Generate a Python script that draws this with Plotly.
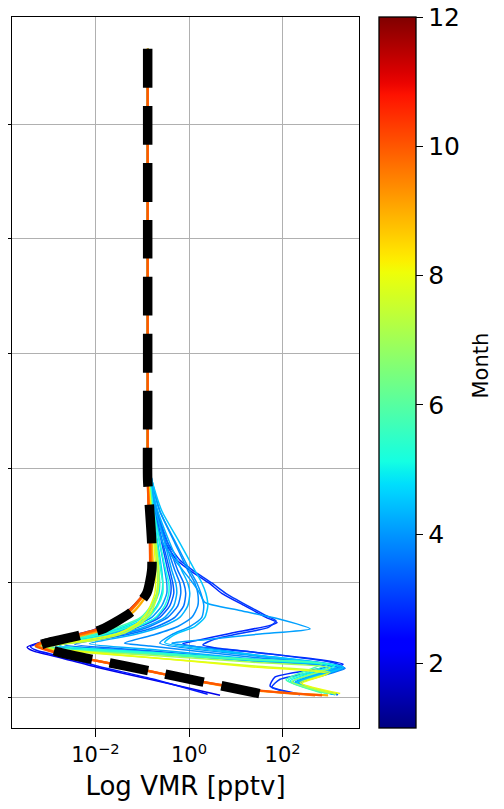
import plotly.graph_objects as go

# ---------------- data (altitude in km, VMR in pptv) ----------------
TOP_ALT = [56.6, 45.0, 35.0, 25.0, 21.0]
TOP_VMR = [0.131, 0.131, 0.131, 0.131, 0.131]

# black dashed mean profile
mean_alt = [56.6, 40, 25, 19, 16.3, 13.5, 11.1, 9.1, 7.5, 5.95, 5.42, 4.72, 4.55, 3.95, 3.2, 2.33, 1.42, 0.29]
mean_vmr = [0.131, 0.131, 0.131, 0.131, 0.145, 0.160, 0.160, 0.125, 0.060, 0.0136, 0.0046, 0.00082,
            0.00064, 0.00172, 0.0124, 0.145, 1.70, 38]

# individual profiles: month, altitude, vmr
e1_month = 2.0
e1_alt = [19, 13.5, 11.1, 9.1, 7.5, 5.95, 5.42, 4.75, 4.4, 4.1, 3.5, 2.65, 1.6, 0.2]
e1_vmr = [0.131, 0.145, 0.145, 0.108, 0.047, 0.0097, 0.0031, 0.00058, 0.00035, 0.00045, 0.00172, 0.0107, 0.145, 4.6]

e2_month = 2.6
e2_alt = [19, 13.5, 11.1, 9.1, 7.5, 5.95, 5.42, 4.75, 4.45, 4.15, 3.55, 2.7, 1.65, 0.3]
e2_vmr = [0.131, 0.152, 0.152, 0.113, 0.051, 0.0107, 0.0036, 0.00064, 0.00041, 0.00053, 0.0020, 0.0124, 0.160, 2.5]

d1_month = 2.8
d1_alt = [19, 16.3, 13.5, 12, 11.1, 10, 9.1, 8.0, 7.0, 6.55, 6.3, 5.6, 4.95, 4.7, 4.45, 4.0, 3.3, 2.9, 1.8, 1.0, 0.3]
d1_vmr = [0.145, 0.195, 0.319, 0.548, 1.04, 2.65, 5.0, 15.6, 44, 76, 54, 7.5, 1.33, 0.74, 1.33, 20, 630, 1960, 69, 54, 235]

d2_month = 3.0
d2_alt = [19, 16.3, 13.5, 12, 11.1, 10, 9.1, 8.0, 7.2, 6.7, 6.1, 5.6, 5.1, 4.6, 4.35, 3.9, 3.1, 2.75, 1.6, 0.9, 0.25]
d2_vmr = [0.145, 0.205, 0.352, 0.635, 1.21, 3.07, 6.1, 18.1, 42, 72, 48.5, 12.2, 3.56, 1.97, 3.56, 33, 1030, 1870, 88, 59, 235]

f13_month = 3.3
f13_alt = [19, 16.3, 13.5, 11.1, 10, 9.1, 8.0, 7.0, 6.2, 5.5, 4.5, 3.87, 3.24, 2.65, 1.3, 0.3]
f13_vmr = [0.152, 0.186, 0.262, 0.352, 0.408, 0.408, 0.335, 0.205, 0.080, 0.0202, 0.00105, 0.145, 20, 1960, 213, 1460]

f1_month = 3.4
f1_alt = [19, 16.3, 13.5, 11.1, 10, 9.1, 8.0, 7.0, 6.2, 5.5, 4.55, 3.91, 3.23, 2.6, 1.3, 0.25]
f1_vmr = [0.145, 0.186, 0.275, 0.388, 0.450, 0.473, 0.388, 0.237, 0.089, 0.0223, 0.00135, 0.145, 20, 2060, 213, 1530]

f9_month = 3.6
f9_alt = [19, 16.3, 13.5, 11.1, 10, 9.1, 8.0, 7.0, 6.2, 5.5, 4.65, 4.08, 3.32, 2.6, 1.3, 0.25]
f9_vmr = [0.152, 0.205, 0.352, 0.575, 0.77, 0.85, 0.77, 0.497, 0.205, 0.049, 0.0036, 0.145, 20, 2060, 223, 1460]

f2_month = 3.7
f2_alt = [19, 16.3, 13.5, 11.1, 10, 9.1, 8.0, 7.0, 6.2, 5.5, 4.6, 3.98, 3.25, 2.55, 1.25, 0.3]
f2_vmr = [0.145, 0.195, 0.319, 0.497, 0.635, 0.667, 0.575, 0.352, 0.145, 0.0366, 0.0022, 0.145, 20, 2160, 235, 1390]

f7_month = 3.9
f7_alt = [19, 16.3, 13.5, 11.1, 10, 9.1, 8.0, 7.0, 6.2, 5.5, 4.75, 4.51, 3.54, 2.65, 1.3, 0.3]
f7_vmr = [0.160, 0.237, 0.497, 0.94, 1.33, 1.54, 1.54, 1.15, 0.575, 0.186, 0.042, 0.145, 20, 1870, 193, 1260]

f3_month = 4.0
f3_alt = [19, 16.3, 13.5, 11.1, 10, 9.1, 8.0, 7.0, 6.2, 5.5, 4.5, 3.86, 3.25, 2.7, 1.35, 0.3]
f3_vmr = [0.145, 0.177, 0.237, 0.303, 0.335, 0.335, 0.262, 0.160, 0.060, 0.0158, 0.00082, 0.145, 20, 1690, 184, 1200]

f15_month = 4.0
f15_alt = [19, 16.3, 13.5, 11.1, 10, 9.1, 8.0, 7.0, 6.2, 5.5, 4.75, 3.70, 2.6, 1.3, 0.3]
f15_vmr = [0.160, 0.237, 0.521, 1.04, 1.47, 1.79, 2.07, 1.88, 1.04, 0.429, 0.237, 20, 2060, 213, 1390]

l1_month = 4.1
l1_alt = [19, 16.3, 13.5, 12, 11.1, 10, 9.1, 8.3, 7.6, 6.9, 6.0, 5.55, 5.05, 4.75, 4.45, 3.67, 2.65, 1.3, 0.3]
l1_vmr = [0.152, 0.177, 0.275, 0.497, 0.74, 1.21, 1.70, 2.18, 12.2, 76, 385, 33, 2.18, 0.429, 1.33, 33, 1960, 202, 1320]

f11_month = 4.2
f11_alt = [19, 16.3, 13.5, 11.1, 10, 9.1, 8.0, 7.0, 6.2, 5.5, 4.55, 3.96, 3.30, 2.7, 1.35, 0.3]
f11_vmr = [0.152, 0.195, 0.303, 0.429, 0.521, 0.548, 0.473, 0.303, 0.119, 0.030, 0.00172, 0.145, 20, 1780, 193, 1260]

f4_month = 4.3
f4_alt = [19, 16.3, 13.5, 11.1, 10, 9.1, 8.0, 7.0, 6.2, 5.5, 4.7, 4.21, 3.40, 2.65, 1.3, 0.25]
f4_vmr = [0.152, 0.215, 0.388, 0.70, 0.94, 1.04, 0.94, 0.635, 0.262, 0.069, 0.0075, 0.145, 20, 1960, 202, 1320]

f12_month = 4.5
f12_alt = [19, 16.3, 13.5, 11.1, 10, 9.1, 8.0, 7.0, 6.2, 5.5, 4.8, 3.77, 2.65, 1.3, 0.3]
f12_vmr = [0.160, 0.262, 0.635, 1.33, 1.88, 2.29, 2.52, 2.18, 1.33, 0.497, 0.303, 20, 1960, 202, 1320]

f5_month = 4.6
f5_alt = [19, 16.3, 13.5, 11.1, 10, 9.1, 8.0, 7.0, 6.2, 5.5, 4.45, 3.82, 3.25, 2.75, 1.4, 0.35]
f5_vmr = [0.145, 0.168, 0.215, 0.262, 0.275, 0.262, 0.205, 0.125, 0.049, 0.0124, 0.00064, 0.145, 20, 1530, 166, 1140]

f6_month = 5.0
f6_alt = [19, 16.3, 13.5, 11.1, 10, 9.1, 8.0, 7.0, 6.2, 5.5, 4.45, 3.84, 3.30, 2.85, 1.45, 0.35]
f6_vmr = [0.145, 0.160, 0.195, 0.226, 0.237, 0.226, 0.168, 0.103, 0.040, 0.0107, 0.00058, 0.145, 20, 1140, 144, 935]

f14_month = 5.2
f14_alt = [19, 16.3, 13.5, 11.1, 10, 9.1, 8.0, 7.0, 6.2, 5.5, 4.55, 3.96, 3.33, 2.8, 1.4, 0.35]
f14_vmr = [0.145, 0.177, 0.237, 0.319, 0.370, 0.370, 0.303, 0.195, 0.080, 0.0223, 0.00135, 0.145, 20, 1320, 158, 1030]

f8_month = 5.4
f8_alt = [19, 16.3, 13.5, 11.1, 10, 9.1, 8.0, 7.0, 6.2, 5.5, 4.5, 3.90, 3.34, 2.9, 1.5, 0.4]
f8_vmr = [0.145, 0.168, 0.205, 0.249, 0.275, 0.275, 0.215, 0.138, 0.054, 0.0143, 0.00071, 0.145, 20, 935, 130, 805]

f10_month = 5.8
f10_alt = [19, 16.3, 13.5, 11.1, 10, 9.1, 8.0, 7.0, 6.2, 5.5, 4.4, 3.82, 3.32, 2.95, 1.55, 0.4]
f10_vmr = [0.145, 0.160, 0.186, 0.215, 0.215, 0.205, 0.152, 0.093, 0.033, 0.0087, 0.00053, 0.145, 20, 695, 118, 695]

g1_month = 7.0
g1_alt = [19, 16.3, 13.5, 11.1, 9.1, 7.5, 6.5, 5.6, 5.0, 4.5, 4.2, 3.7, 3.1, 2.6, 1.4, 0.35]
g1_vmr = [0.138, 0.152, 0.186, 0.215, 0.205, 0.145, 0.089, 0.033, 0.0083, 0.00082, 0.00172, 0.145, 20, 1030, 158, 1030]

y2_month = 7.5
y2_alt = [19, 16.3, 13.5, 11.1, 9.1, 7.5, 6.5, 5.6, 5.0, 4.55, 4.3, 4.0, 3.45, 2.75, 2.2, 1.3, 0.3]
y2_vmr = [0.138, 0.160, 0.195, 0.226, 0.215, 0.160, 0.098, 0.040, 0.0097, 0.00135, 0.00082, 0.0036, 0.186, 25.6, 1030, 235, 1390]

y1_month = 8.0
y1_alt = [19, 16.3, 13.5, 11.1, 9.1, 7.5, 6.5, 5.6, 5.0, 4.6, 4.35, 4.1, 3.5, 2.7, 2.1, 1.25, 0.35]
y1_vmr = [0.138, 0.152, 0.177, 0.195, 0.186, 0.131, 0.080, 0.030, 0.0059, 0.00105, 0.00071, 0.0028, 0.145, 20, 935, 259, 1690]

o3_month = 9.0
o3_alt = [19, 16.3, 13.5, 11.1, 9.1, 7.5, 5.95, 5.42, 4.75, 4.5, 3.95, 3.2, 2.33, 1.42, 0.6, 0.2]
o3_vmr = [0.131, 0.145, 0.160, 0.168, 0.131, 0.066, 0.0150, 0.0051, 0.00082, 0.00064, 0.00156, 0.0112, 0.131, 1.54, 30, 935]

o2_month = 9.6
o2_alt = [19, 16.3, 13.5, 11.1, 9.1, 7.5, 5.95, 5.42, 4.75, 4.5, 3.95, 3.2, 2.33, 1.42, 0.6, 0.2]
o2_vmr = [0.131, 0.138, 0.152, 0.152, 0.113, 0.054, 0.0118, 0.0040, 0.00071, 0.00058, 0.00148, 0.0112, 0.138, 1.70, 33, 493]

o1_month = 10.0
o1_alt = [19, 16.3, 13.5, 11.1, 9.1, 7.5, 5.95, 5.42, 4.75, 4.5, 3.95, 3.2, 2.33, 1.42, 0.6, 0.2]
o1_vmr = [0.131, 0.138, 0.145, 0.145, 0.108, 0.049, 0.0107, 0.0034, 0.00064, 0.00053, 0.00135, 0.0107, 0.131, 1.70, 36, 695]

profiles = [
    (e1_month, e1_alt, e1_vmr), (e2_month, e2_alt, e2_vmr),
    (d1_month, d1_alt, d1_vmr), (d2_month, d2_alt, d2_vmr),
    (f13_month, f13_alt, f13_vmr), (f1_month, f1_alt, f1_vmr),
    (f9_month, f9_alt, f9_vmr), (f2_month, f2_alt, f2_vmr),
    (f7_month, f7_alt, f7_vmr), (f3_month, f3_alt, f3_vmr),
    (f15_month, f15_alt, f15_vmr), (l1_month, l1_alt, l1_vmr),
    (f11_month, f11_alt, f11_vmr), (f4_month, f4_alt, f4_vmr),
    (f12_month, f12_alt, f12_vmr), (f5_month, f5_alt, f5_vmr),
    (f6_month, f6_alt, f6_vmr), (f14_month, f14_alt, f14_vmr),
    (f8_month, f8_alt, f8_vmr), (f10_month, f10_alt, f10_vmr),
    (g1_month, g1_alt, g1_vmr), (y2_month, y2_alt, y2_vmr),
    (y1_month, y1_alt, y1_vmr), (o3_month, o3_alt, o3_vmr),
    (o2_month, o2_alt, o2_vmr), (o1_month, o1_alt, o1_vmr),
]

MONTH_MIN, MONTH_MAX = 1, 12
CBAR_TICKS = [2, 4, 6, 8, 10, 12]
X_TICKS = [0.01, 1, 100]
X_TICKTEXT = ["10<sup>\u22122</sup>", "10<sup>0</sup>", "10<sup>2</sup>"]
Y_TICKS = [0, 10, 20, 30, 40, 50]


# ---------------- matplotlib "jet" colormap ----------------
def _seg(pts, t):
    for (x0, y0), (x1, y1) in zip(pts[:-1], pts[1:]):
        if x0 <= t <= x1:
            return y0 + (y1 - y0) * (t - x0) / (x1 - x0) if x1 > x0 else y1
    return pts[-1][1]


def jet(t):
    t = min(max(t, 0.0), 1.0)
    r = _seg([(0, 0), (0.35, 0), (0.66, 1), (0.89, 1), (1, 0.5)], t)
    g = _seg([(0, 0), (0.125, 0), (0.375, 1), (0.64, 1), (0.91, 0), (1, 0)], t)
    b = _seg([(0, 0.5), (0.11, 1), (0.34, 1), (0.65, 0), (1, 0)], t)
    return f"rgb({round(r*255)},{round(g*255)},{round(b*255)})"


jet_scale = [[i / 64, jet(i / 64)] for i in range(65)]

fig = go.Figure()

for month, alt, vmr in sorted(profiles, key=lambda p: p[0]):
    t = (month - MONTH_MIN) / (MONTH_MAX - MONTH_MIN)
    w = 2.2 if month >= 9 else 1.5
    fig.add_trace(go.Scatter(
        x=TOP_VMR + vmr, y=TOP_ALT + alt, mode="lines",
        line=dict(color=jet(t), width=w, shape="spline", smoothing=0.6),
        hoverinfo="skip", showlegend=False))

fig.add_trace(go.Scatter(
    x=mean_vmr, y=mean_alt, mode="lines",
    line=dict(color="black", width=9.5, dash="39px,18px", shape="spline", smoothing=0.6),
    hoverinfo="skip", showlegend=False))

# colorbar
fig.add_trace(go.Scatter(
    x=[None], y=[None], mode="markers", showlegend=False, hoverinfo="skip",
    marker=dict(color=[MONTH_MIN], colorscale=jet_scale, cmin=MONTH_MIN, cmax=MONTH_MAX,
                showscale=True,
                colorbar=dict(
                    x=1.0576, xanchor="left", xpad=0, ypad=0,
                    y=0.5, yanchor="middle", len=1.0, lenmode="fraction",
                    thickness=37, thicknessmode="pixels",
                    outlinewidth=1.3, outlinecolor="black",
                    tickmode="array", tickvals=CBAR_TICKS,
                    ticks="outside", ticklen=7, tickwidth=1.3, tickcolor="black",
                    ticklabeloverflow="allow",
                    tickfont=dict(size=25, color="black", family="DejaVu Sans"),
                ))))

fig.add_annotation(
    text="Month", xref="paper", yref="paper", x=1.3925, y=0.51,
    xanchor="right", yanchor="middle", textangle=-90, showarrow=False,
    font=dict(size=21, color="black", family="DejaVu Sans"))

axis_common = dict(
    showgrid=True, gridcolor="#b0b0b0", gridwidth=1.2,
    showline=True, linecolor="black", linewidth=1.3, mirror=True,
    ticks="outside", tickcolor="black", tickwidth=1.3, zeroline=False,
    automargin=False,
)

# the page body adds an 8px offset; the figure is sized to fit inside the
# 504x809 window with the plot area at x 12..359, y 17..728
fig.update_layout(
    width=488, height=793,
    margin=dict(l=4, r=137, t=9, b=73, autoexpand=False),
    paper_bgcolor="white", plot_bgcolor="white",
    font=dict(family="DejaVu Sans", color="black"),
    showlegend=False,
    xaxis=dict(type="log", range=[-3.78, 3.63], tickmode="array",
               tickvals=X_TICKS, ticktext=X_TICKTEXT, ticklen=8,
               tickfont=dict(size=21),
               title=dict(text="Log VMR [pptv]", font=dict(size=26), standoff=10),
               **axis_common),
    yaxis=dict(range=[-2.65, 59.36], tickmode="array", tickvals=Y_TICKS,
               showticklabels=False, ticklen=9, **axis_common),
)

fig.write_html("out.html")
